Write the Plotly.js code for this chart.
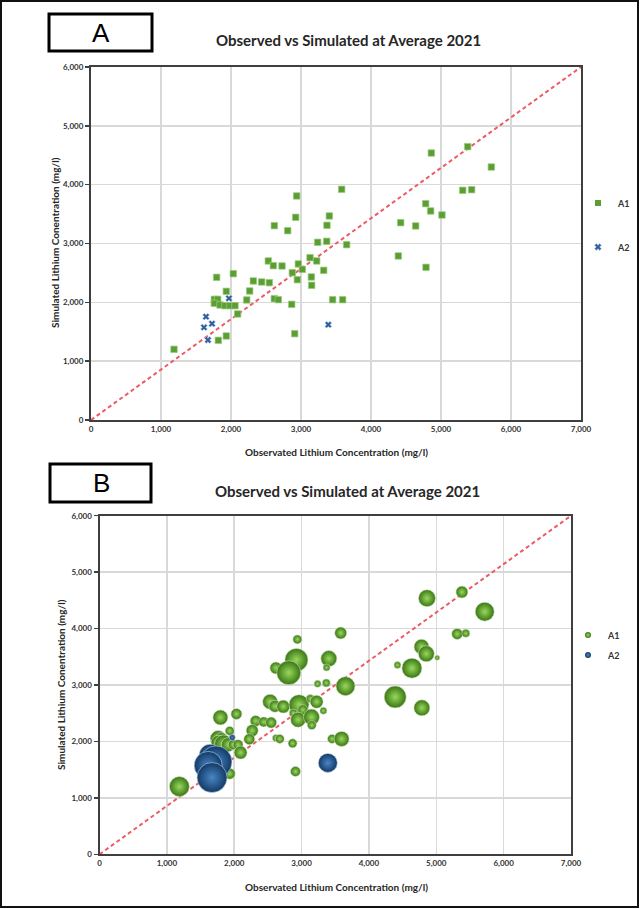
<!DOCTYPE html>
<html>
<head>
<meta charset="utf-8">
<script src="https://cdn.plot.ly/plotly-3.0.1.min.js"></script>
<style>html,body{margin:0;padding:0;background:#fff;}#chart{width:640px;height:909px;}</style>
</head>
<body>
<div id="chart"></div>
<script>
// ---------- DATA ----------
const seriesNames = ["A1", "A2"];
const chartTitle = "Observed vs Simulated at Average 2021";
const xAxisTitle = "Observated Lithium Concentration (mg/l)";
const yAxisTitle = "Simulated Lithium Conentration (mg/l)";
const panelLabels = ["A", "B"];
const xRange = [0, 7000];
const yRange = [0, 6000];

// A1 observed (x) / simulated (y) lithium, mg/l
const a1Observed = [3581, 2938, 2924, 3405, 2619, 2810, 3371, 3238, 3367, 3652,
  4424, 4638, 4390, 2533, 2605, 2729, 2962, 3129, 3224, 3019,
  2876, 3324, 2948, 3148, 3152, 1795, 2033, 2319, 2438, 2548,
  1933, 2267, 2224, 2619, 2676, 2867, 3452, 3595, 1762, 1810,
  1762, 1843, 1914, 1986, 2057, 2095, 2910, 1819, 1933, 1186,
  4862, 5381, 5719, 5310, 5438, 4781, 4852, 5014, 4786];
const a1Simulated = [3921, 3808, 3445, 3468, 3303, 3218, 3309, 3020, 3037, 2980,
  3354, 3298, 2788, 2703, 2623, 2618, 2652, 2759, 2703, 2561,
  2504, 2544, 2385, 2431, 2289, 2425, 2487, 2363, 2346, 2334,
  2187, 2193, 2040, 2062, 2045, 1966, 2045, 2045, 2051, 2051,
  1983, 1955, 1943, 1943, 1943, 1802, 1467, 1354, 1428, 1201,
  4538, 4646, 4300, 3904, 3915, 3677, 3553, 3485, 2595];
// relative bubble magnitude for panel B
const a1Bubble = [12, 9, 23, 16, 12, 24, 7, 7, 8, 19,
  7, 20, 22, 15, 12, 13, 20, 8, 13, 10,
  8, 7, 15, 16, 9, 15, 11, 11, 10, 11,
  9, 12, 11, 7, 9, 9, 9, 15, 16, 12,
  14, 18, 14, 10, 10, 13, 10, 10, 11, 20,
  17, 12, 19, 11, 8, 15, 16, 5, 16];

const a2Observed = [1971, 1643, 1729, 1614, 1671, 3390];
const a2Simulated = [2068, 1756, 1637, 1575, 1360, 1620];
const a2Bubble = [6, 22, 32, 28, 30, 19];

// ---------- LAYOUT HELPERS ----------
const W = 640, H = 909;
const fx = p => p / W;
const fy = p => 1 - p / H;
const FONT = "Lato, 'Open Sans', 'DejaVu Sans', sans-serif";
const GREEN = '#5a9e34';
const BLUE = '#2f5e9c';
const G_EDGE = '#3a7514', G_CENTER = '#98d85c';
const B_EDGE = '#123a66', B_CENTER = '#4a86c4';
const diag = { x: [xRange[0], xRange[1]], y: [yRange[0], yRange[1]] };

const traces = [
  // Panel A
  { type: 'scatter', mode: 'lines', x: diag.x, y: diag.y, xaxis: 'x', yaxis: 'y',
    line: { color: '#ee5a62', width: 2, dash: '4px,3px' }, showlegend: false, hoverinfo: 'skip' },
  { type: 'scatter', mode: 'markers', name: seriesNames[0], x: a1Observed, y: a1Simulated,
    xaxis: 'x', yaxis: 'y', showlegend: false,
    marker: { symbol: 'square', size: 6.5, color: GREEN, opacity: 1, line: { color: '#9fcd80', width: 0.7 } } },
  { type: 'scatter', mode: 'markers', name: seriesNames[1], x: a2Observed, y: a2Simulated,
    xaxis: 'x', yaxis: 'y', showlegend: false,
    marker: { symbol: 'x', size: 6, color: BLUE, opacity: 1, line: { color: '#b9cde8', width: 0.6 } } },
  // Panel B
  { type: 'scatter', mode: 'lines', x: diag.x, y: diag.y, xaxis: 'x2', yaxis: 'y2',
    line: { color: '#ee5a62', width: 2, dash: '4px,3px' }, showlegend: false, hoverinfo: 'skip' },
  { type: 'scatter', mode: 'markers', name: seriesNames[0], x: a1Observed, y: a1Simulated,
    xaxis: 'x2', yaxis: 'y2', showlegend: false,
    marker: { size: a1Bubble, sizemode: 'diameter', sizeref: 1, opacity: 1, color: G_EDGE,
      gradient: { type: 'radial', color: G_CENTER }, line: { width: 0.6, color: '#d3e8c4' } } },
  { type: 'scatter', mode: 'markers', name: seriesNames[1], x: a2Observed, y: a2Simulated,
    xaxis: 'x2', yaxis: 'y2', showlegend: false,
    marker: { size: a2Bubble, sizemode: 'diameter', sizeref: 1, opacity: 1, color: B_EDGE,
      gradient: { type: 'radial', color: B_CENTER }, line: { width: 0.6, color: '#c4d6ec' } } },
  // legend entries
  { type: 'scatter', mode: 'markers', name: seriesNames[0], x: [null], y: [null], xaxis: 'x', yaxis: 'y',
    legend: 'legend', marker: { symbol: 'square', size: 6, color: GREEN, opacity: 1 } },
  { type: 'scatter', mode: 'markers', name: seriesNames[1], x: [null], y: [null], xaxis: 'x', yaxis: 'y',
    legend: 'legend2', marker: { symbol: 'x', size: 6, color: BLUE, opacity: 1, line: { color: '#b9cde8', width: 0.6 } } },
  { type: 'scatter', mode: 'markers', name: seriesNames[0], x: [null], y: [null], xaxis: 'x2', yaxis: 'y2',
    legend: 'legend3', marker: { size: 6, color: G_EDGE, opacity: 1, gradient: { type: 'radial', color: G_CENTER } } },
  { type: 'scatter', mode: 'markers', name: seriesNames[1], x: [null], y: [null], xaxis: 'x2', yaxis: 'y2',
    legend: 'legend4', marker: { size: 6, color: B_EDGE, opacity: 1, gradient: { type: 'radial', color: B_CENTER } } }
];

function axis(domain, isY, anchor) {
  return {
    domain: domain, range: isY ? yRange : xRange, dtick: 1000, tickformat: ',',
    anchor: anchor, showgrid: true, gridcolor: '#d9d9d9', gridwidth: 1.5,
    showline: true, mirror: true, linecolor: '#3f3f3f', linewidth: 2, zeroline: false,
    ticks: isY ? 'outside' : '', ticklen: 4, tickcolor: '#3f3f3f', tickwidth: 1.5,
    tickfont: { family: FONT, size: 8, color: '#333', weight: 'bold' },
    fixedrange: true
  };
}

function legendAt(px, py) {
  return { x: fx(px), y: fy(py), xanchor: 'left', yanchor: 'middle', bgcolor: 'rgba(0,0,0,0)',
    font: { family: FONT, size: 9, color: '#333', weight: 'bold' }, itemwidth: 30 };
}

const annFont = (s, w) => ({ family: FONT, size: s, color: '#262626', weight: w || 'bold' });
const annotations = [
  { text: panelLabels[0], x: fx(101), y: fy(33), font: { family: "'Liberation Sans', Arial, sans-serif", size: 26, color: '#000' } },
  { text: panelLabels[1], x: fx(101), y: fy(483), font: { family: "'Liberation Sans', Arial, sans-serif", size: 26, color: '#000' } },
  { text: chartTitle, x: fx(348), y: fy(40), font: annFont(15) },
  { text: chartTitle, x: fx(347), y: fy(491), font: annFont(15) },
  { text: xAxisTitle, x: fx(336), y: fy(452), font: annFont(10) },
  { text: xAxisTitle, x: fx(336), y: fy(887), font: annFont(10) },
  { text: yAxisTitle, x: fx(55), y: fy(243), textangle: -90, font: annFont(10) },
  { text: yAxisTitle, x: fx(61), y: fy(685), textangle: -90, font: annFont(10) }
].map(a => Object.assign({ xref: 'paper', yref: 'paper', showarrow: false, xanchor: 'center', yanchor: 'middle' }, a));

const shapes = [
  { type: 'rect', xref: 'paper', yref: 'paper', x0: fx(1), x1: fx(638), y0: fy(907), y1: fy(1), line: { color: '#111', width: 2 } },
  { type: 'rect', xref: 'paper', yref: 'paper', x0: fx(49), x1: fx(152), y0: fy(51), y1: fy(14), line: { color: '#000', width: 3 } },
  { type: 'rect', xref: 'paper', yref: 'paper', x0: fx(50), x1: fx(151), y0: fy(502), y1: fy(464), line: { color: '#000', width: 3 } }
];

const layout = {
  width: W, height: H, margin: { l: 0, r: 0, t: 0, b: 0 },
  paper_bgcolor: '#fff', plot_bgcolor: '#fff',
  xaxis: axis([fx(91), fx(581)], false, 'y'),
  yaxis: axis([fy(420), fy(67)], true, 'x'),
  xaxis2: axis([fx(99.5), fx(571)], false, 'y2'),
  yaxis2: axis([fy(854.3), fy(515.7)], true, 'x2'),
  legend: legendAt(578, 203),
  legend2: legendAt(578, 247),
  legend3: legendAt(568, 635),
  legend4: legendAt(568, 655),
  annotations: annotations,
  shapes: shapes,
  hovermode: false
};

Plotly.newPlot('chart', traces, layout, { displayModeBar: false, staticPlot: true });
</script>
</body>
</html>
